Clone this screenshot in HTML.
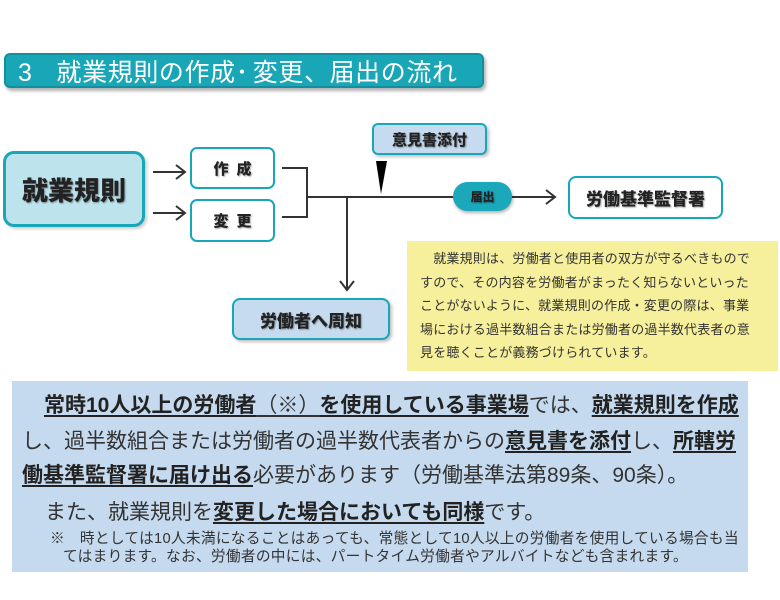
<!DOCTYPE html>
<html><head><meta charset="utf-8">
<style>
html,body{margin:0;padding:0;background:#fff;}
body{width:780px;height:600px;position:relative;overflow:hidden;font-family:"Liberation Sans","Noto Sans CJK JP",sans-serif;color:#333;}
.abs{position:absolute;}
.box{position:absolute;box-sizing:border-box;display:flex;align-items:center;justify-content:center;font-family:"Noto Sans CJK JP",sans-serif;font-weight:900;color:#222;text-shadow:1px 1px 1.5px rgba(0,0,0,.35);white-space:nowrap;}
.teal{border:2.5px solid #17a7b9;}
.ln{position:absolute;white-space:nowrap;}
.b{font-weight:bold;text-decoration:underline;text-underline-offset:3px;text-decoration-thickness:1.5px;color:#222;}
.u{text-decoration:underline;text-underline-offset:3px;text-decoration-thickness:1.5px;}
</style></head><body>

<!-- Title bar -->
<div class="abs" style="left:4px;top:53px;width:480px;height:35px;box-sizing:border-box;background:#19a6b7;border:2px solid #128e9e;border-radius:6px;box-shadow:2px 3px 3px rgba(0,0,0,.3);"></div>
<div class="ln" style="left:18px;top:58px;height:30px;line-height:30px;font-size:25px;color:#fff;letter-spacing:0.6px;font-family:'Liberation Sans','Noto Sans CJK JP',sans-serif;">3<span style="display:inline-block;width:24px"></span>就業規則の作成<span style="letter-spacing:-3px">･</span>&nbsp;変更、届出の流れ</div>

<!-- Connectors -->
<svg class="abs" style="left:0;top:0" width="780" height="600">
 <g stroke="#333" stroke-width="2" fill="none">
  <line x1="153" y1="172" x2="184" y2="172"/>
  <polyline points="176,165 185,172 176,179"/>
  <line x1="153" y1="213" x2="184" y2="213"/>
  <polyline points="176,206 185,213 176,220"/>
  <polyline points="282,168 307,168 307,217 282,217"/>
  <line x1="307" y1="197" x2="455" y2="197"/>
  <line x1="510" y1="197" x2="554" y2="197"/>
  <polyline points="546,190 555,197 546,204"/>
  <line x1="347" y1="197" x2="347" y2="289"/>
  <polyline points="340,281 347,290 354,281"/>
 </g>
 <polygon points="376,161 387,161 381,194" fill="#000"/>
</svg>

<!-- Boxes -->
<div class="box" style="left:3px;top:151px;width:142px;height:76px;background:#bde3ed;border:3px solid #17a7b9;border-radius:11px;font-size:26px;box-shadow:2px 2px 3px rgba(0,0,0,.2);">就業規則</div>
<div class="box teal" style="left:190px;top:147px;width:85px;height:42px;background:#fff;border-radius:7px;font-size:15px;letter-spacing:8px;padding-left:8px;">作成</div>
<div class="box teal" style="left:190px;top:199px;width:85px;height:43px;background:#fff;border-radius:7px;font-size:15px;letter-spacing:8px;padding-left:8px;">変更</div>
<div class="box teal" style="left:232px;top:298px;width:158px;height:42px;background:#c6dbef;border-radius:8px;font-size:17px;box-shadow:2px 2px 3px rgba(0,0,0,.25);">労働者へ周知</div>
<div class="box teal" style="left:372px;top:123px;width:115px;height:32px;background:#c6dbef;border-radius:6px;font-size:15px;box-shadow:2px 2px 3px rgba(0,0,0,.25);">意見書添付</div>
<div class="box" style="left:453px;top:182px;width:59px;height:29px;background:#1aa8ba;border-radius:15px;font-size:12px;box-shadow:1px 2px 3px rgba(0,0,0,.3);">届出</div>
<div class="box teal" style="left:568px;top:176px;width:155px;height:43px;background:#fff;border-radius:8px;font-size:17px;">労働基準監督署</div>

<!-- Yellow note -->
<div class="abs" style="left:407px;top:241px;width:371px;height:130px;background:#f6ef9c;"></div>
<div class="abs" style="left:420px;top:247px;font-size:13px;line-height:23.5px;letter-spacing:0.2px;color:#333;white-space:nowrap;font-family:'Liberation Sans','Noto Sans CJK JP',sans-serif;">
<div>　就業規則は、労働者と使用者の双方が守るべきもので</div>
<div>すので、その内容を労働者がまったく知らないといった</div>
<div>ことがないように、就業規則の作成・変更の際は、事業</div>
<div>場における過半数組合または労働者の過半数代表者の意</div>
<div>見を聴くことが義務づけられています。</div>
</div>

<!-- Blue box -->
<div class="abs" style="left:12px;top:381px;width:736px;height:191px;background:#c5daee;"></div>
<div class="ln" style="left:44px;top:395px;font-size:21px;line-height:22px;"><span class="b">常時10人以上の労働者</span><span class="u">（※）</span><span class="b">を使用している事業場</span>では、<span class="b">就業規則を作成</span></div>
<div class="ln" style="left:22px;top:431px;font-size:21px;line-height:22px;">し、過半数組合または労働者の過半数代表者からの<span class="b">意見書を添付</span>し、<span class="b">所轄労</span></div>
<div class="ln" style="left:22px;top:465px;font-size:21px;line-height:22px;"><span class="b">働基準監督署に届け出る</span>必要があります（労働基準法第89条、90条）。</div>
<div class="ln" style="left:45px;top:502px;font-size:21px;line-height:22px;">また、就業規則を<span class="b">変更した場合においても同様</span>です。</div>
<div class="ln" style="left:50px;top:531px;font-size:14.7px;line-height:16px;letter-spacing:0.28px;">※　時としては10人未満になることはあっても、常態として10人以上の労働者を使用している場合も当</div>
<div class="ln" style="left:63px;top:549px;font-size:14.7px;line-height:16px;letter-spacing:0.28px;">てはまります。なお、労働者の中には、パートタイム労働者やアルバイトなども含まれます。</div>

</body></html>
